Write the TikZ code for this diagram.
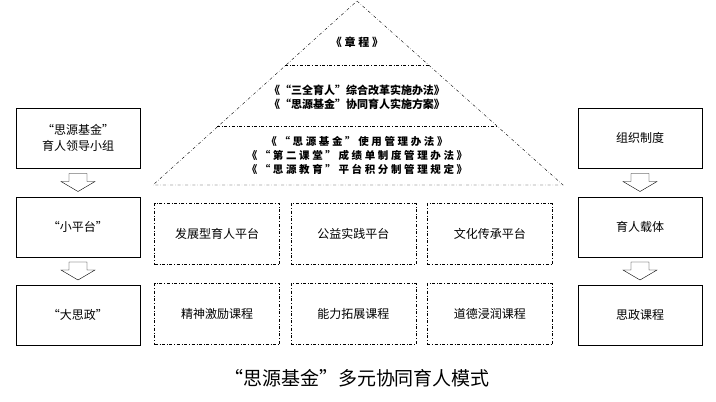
\documentclass[tikz,border=0pt]{standalone}
\usepackage{fontspec}
\newfontfamily\cjk{Noto Sans CJK SC}
\newfontfamily\cjkwide[LetterSpace=25]{Noto Sans CJK SC}
\usetikzlibrary{shapes,arrows,calc,positioning}
\tikzset{sidebox/.style={draw, thick, text centered, minimum height=60pt, minimum width=124pt, font=\cjk\fontsize{12}{16}\selectfont, align=center}}
\tikzset{platbox/.style={draw, dash dot, text centered, minimum height=61pt, minimum width=125pt, font=\cjk\fontsize{12}{16}\selectfont}}
\tikzset{rule/.style={dash dot, thin}}
\newcommand{\hollowdown}[1]{\draw ($#1+(-9,-9)$) -- ++(18,0) -- ++(0,8) -- ++(8,0) -- ++(-17,10) -- ++(-17,-10) -- ++(8,0) -- cycle;}

\begin{document}
\begin{tikzpicture}[x=1pt, y=-1pt]
        \useasboundingbox (0,0) rectangle (716,402);
        \node [sidebox]                    (lead)    at (78,138)  {“思源基金”\\育人领导小组};
        \node [sidebox]                    (small)   at (78,227)  {“小平台”};
        \node [sidebox]                    (big)     at (78,315)  {“大思政”};
        \node [sidebox]                    (org)     at (640,138) {组织制度};
        \node [sidebox]                    (carrier) at (640,227) {育人载体};
        \node [sidebox]                    (course)  at (640,315) {思政课程};
        %
        \hollowdown{($(lead.south)!0.5!(small.north)$)}
        \hollowdown{($(small.south)!0.5!(big.north)$)}
        \hollowdown{($(org.south)!0.5!(carrier.north)$)}
        \hollowdown{($(carrier.south)!0.5!(course.north)$)}
        %
        \node [platbox]                    (dev)     at (217,234) {发展型育人平台};
        \node [platbox, right=11pt of dev] (public)  {公益实践平台};
        \node [platbox, right=11pt of public] (culture) {文化传承平台};
        \node [platbox]                    (spirit)  at (217,314) {精神激励课程};
        \node [platbox, right=11pt of spirit] (ability) {能力拓展课程};
        \node [platbox, right=11pt of ability] (moral) {道德浸润课程};
        %
        \draw [rule] (357,1) -- (563,185) -- (153,185) -- cycle;
        \draw [rule] (285,65) -- (429,65);
        \draw [rule] (217,126) -- (497,126);
        \node [font=\cjkwide\bfseries\fontsize{11}{14}\selectfont] (rules1) at (357,42) {《章程》};
        \node [font=\cjk\bfseries\fontsize{11}{14}\selectfont, align=center] (rules2) at (357,97) {《“三全育人”综合改革实施办法》\\《“思源基金”协同育人实施方案》};
        \node [font=\cjkwide\bfseries\fontsize{10.5}{14}\selectfont, align=center] (rules3) at (357,155) {《“思源基金”使用管理办法》\\《“第二课堂”成绩单制度管理办法》\\《“思源教育”平台积分制管理规定》};
        %
        \node [font=\cjk\fontsize{19}{22}\selectfont] (title) at (357,378) {“思源基金”多元协同育人模式};
    \end{tikzpicture}
\end{document}
